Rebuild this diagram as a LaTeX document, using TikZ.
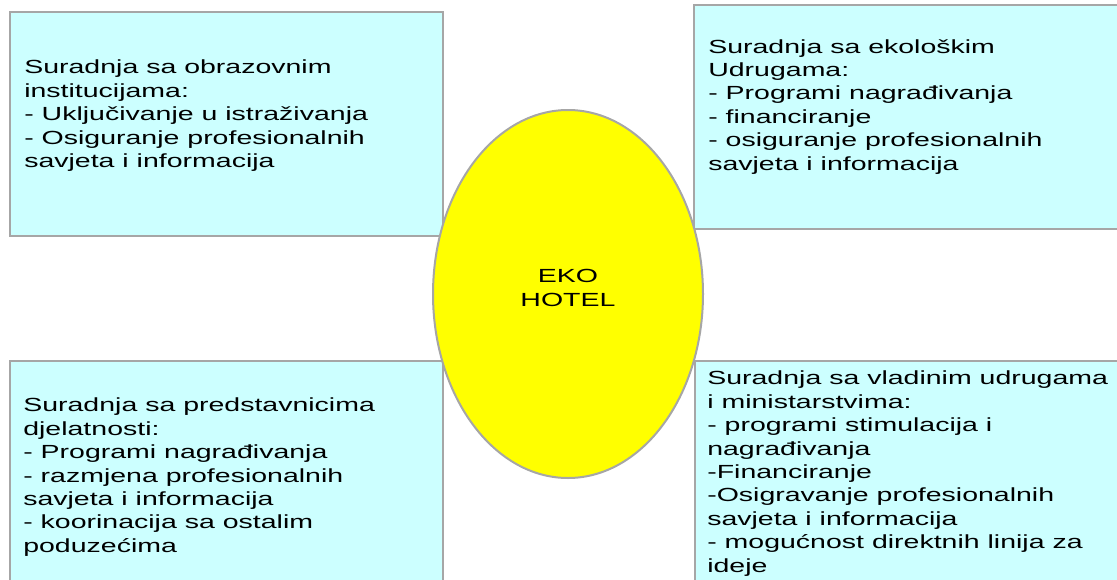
\documentclass[tikz,border=0pt]{standalone}
\usepackage{fontspec}
\setmainfont{Liberation Sans}
\usetikzlibrary{shapes.geometric}
\definecolor{boxcyan}{HTML}{CCFFFF}
\definecolor{rimgray}{HTML}{A6A6A6}
\definecolor{hotelyellow}{HTML}{FFFF00}

\begin{document}
\begin{tikzpicture}[x=1pt,y=1pt,
	okvir/.style={rectangle, draw=rimgray, line width=2pt, fill=boxcyan, anchor=north west, inner sep=0pt},
	tekst/.style={anchor=north west, align=left, inner sep=0pt, font=\fontsize{19}{23.4}\selectfont, xscale=1.5, transform shape},
	jaje/.style={ellipse, draw=rimgray, line width=2pt, fill=hotelyellow, inner sep=0pt, minimum width=270pt, minimum height=368pt}]
				\useasboundingbox (0,0) rectangle (1117,-579);
				\clip (0,0) rectangle (1117,-579);
				
				% boxes
				\node[okvir, minimum width=433pt, minimum height=224pt] (obraz) at (9,-11) {};
				\node[okvir, minimum width=440pt, minimum height=224pt] (eko) at (693,-4) {};
				\node[okvir, minimum width=433pt, minimum height=240pt] (pred) at (9,-360) {};
				\node[okvir, minimum width=440pt, minimum height=240pt] (vlada) at (694,-360) {};
				
				\node[tekst] (obrazT) at (24,-60) {Suradnja sa obrazovnim\\institucijama:\\- Uključivanje u istraživanja\\- Osiguranje profesionalnih\\savjeta i informacija};
				\node[tekst] (ekoT) at (708,-39) {Suradnja sa ekološkim\\Udrugama:\\- Programi nagrađivanja\\- financiranje\\- osiguranje profesionalnih\\savjeta i informacija};
				\node[tekst] (predT) at (23,-398) {Suradnja sa predstavnicima\\djelatnosti:\\- Programi nagrađivanja\\- razmjena profesionalnih\\savjeta i informacija\\- koorinacija sa ostalim\\poduzećima};
				\node[tekst] (vladaT) at (707,-371) {Suradnja sa vladinim udrugama\\i ministarstvima:\\- programi stimulacija i\\nagrađivanja\\-Financiranje\\-Osigravanje profesionalnih\\savjeta i informacija\\- mogućnost direktnih linija za\\ideje};
				
				% centre
				\node[jaje] (hotel) at (568,-294) {};
				\node[tekst, anchor=center, align=center] (hotelT) at (568,-288) {EKO\\HOTEL};
			\end{tikzpicture}
\end{document}
